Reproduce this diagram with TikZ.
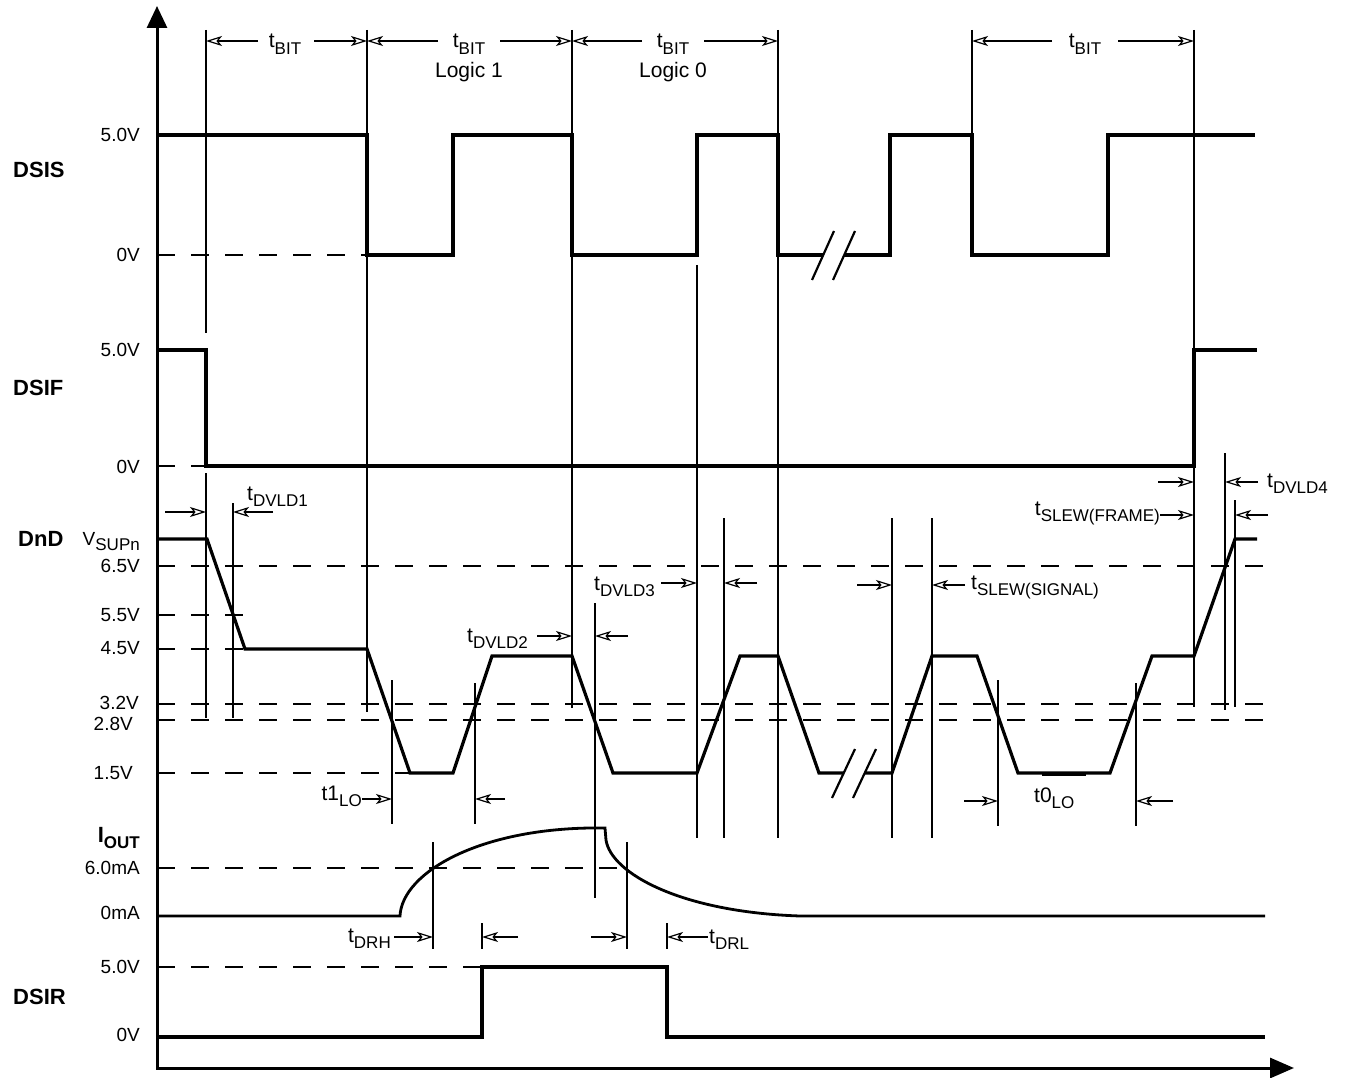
\documentclass[tikz,border=0pt]{standalone}
\usepackage{fontspec}
\setmainfont{Liberation Sans}
\usetikzlibrary{arrows.meta}
\newcommand\ssub[1]{\raisebox{-0.3em}{\fontsize{17}{17}\selectfont #1}}
\begin{document}
\begin{tikzpicture}[x=1pt,y=-1pt,
  sig/.style={line width=3.2pt, line join=miter},
  thinline/.style={line width=1.8pt},
  dsh/.style={line width=1.8pt, dash pattern=on 18pt off 16pt},
  dim/.style={line width=1.8pt, -{Stealth[open,length=16pt,width=10pt,inset=4pt,line width=1.2pt]}},
  lab/.style={font=\fontsize{19}{22}\selectfont, inner sep=0pt},
  tlab/.style={font=\fontsize{21}{24}\selectfont, inner sep=0pt},
  blab/.style={font=\fontsize{22}{24}\selectfont\bfseries, inner sep=0pt},
]
\fill[white] (0,0) rectangle (1350,1078);
\useasboundingbox (0,0) rectangle (1350,1078);

% axes
\draw[line width=3pt, {Triangle[length=22pt,width=20pt]}-{Triangle[length=24pt,width=20pt]}]
  (157,6) -- (157,1068) -- (1294,1068);

% ---------- DSIS ----------
\draw[dsh] (157,255) -- (367,255);
\draw[sig] (157,135) -- (367,135) -- (367,255) -- (453,255) -- (453,135) -- (572,135) -- (572,255)
  -- (697,255) -- (697,135) -- (778,135) -- (778,255) -- (823,255);
\draw[sig] (844,255) -- (890,255) -- (890,135) -- (972,135) -- (972,255) -- (1108,255) -- (1108,135) -- (1255,135);
\draw[line width=2.2pt] (812,280) -- (834,231);
\draw[line width=2.2pt] (833,280) -- (855,231);

% ---------- DSIF ----------
\draw[dsh] (157,466) -- (206,466);
\draw[sig] (157,350) -- (206,350) -- (206,466) -- (1194,466) -- (1194,350) -- (1257,350);

% ---------- DnD ----------
\draw[dsh] (157,566) -- (1265,566);
\draw[dsh] (157,615) -- (245,615);
\draw[dsh] (157,649) -- (245,649);
\draw[dsh] (157,704) -- (1265,704);
\draw[dsh] (157,720) -- (1265,720);
\draw[dsh] (157,773) -- (410,773);
\draw[sig] (157,539) -- (207,539) -- (245,649) -- (367,649) -- (410,773) -- (453,773) -- (492,656)
  -- (572,656) -- (613,773) -- (697,773) -- (740,656) -- (778,656) -- (819,773) -- (844,773);
\draw[sig] (865,773) -- (892,773) -- (932,656) -- (977,656) -- (1018,773) -- (1110,773) -- (1152,656)
  -- (1194,656) -- (1235,539) -- (1257,539);
\draw[line width=3pt] (1042,774) -- (1086,774);
\draw[line width=2.2pt] (832,798) -- (855,749);
\draw[line width=2.2pt] (853,798) -- (876,749);

% ---------- IOUT ----------
\draw[dsh] (157,868) -- (627,868);
\draw[sig, line width=2.8pt] (157,916) -- (400,916) .. controls (402,872) and (482,826) .. (605,828)
  -- (606,840) .. controls (611,873) and (680,912) .. (800,916) -- (1265,916);

% ---------- DSIR ----------
\draw[dsh] (157,967) -- (482,967);
\draw[sig] (157,1037) -- (482,1037) -- (482,967) -- (667,967) -- (667,1037) -- (1265,1037);

% ---------- thin markers ----------
\draw[thinline] (206,30) -- (206,333);
\draw[thinline] (206,473) -- (206,718);
\draw[thinline] (233,503) -- (233,718);
\draw[thinline] (367,30) -- (367,712);
\draw[thinline] (572,30) -- (572,708);
\draw[thinline] (778,30) -- (778,838);
\draw[thinline] (972,30) -- (972,135);
\draw[thinline] (1194,30) -- (1194,707);
\draw[thinline] (697,265) -- (697,838);
\draw[thinline] (724,518) -- (724,838);
\draw[thinline] (892,518) -- (892,838);
\draw[thinline] (932,518) -- (932,838);
\draw[thinline] (392,680) -- (392,824);
\draw[thinline] (475,683) -- (475,824);
\draw[thinline] (595,603) -- (595,898);
\draw[thinline] (998,680) -- (998,826);
\draw[thinline] (1136,683) -- (1136,826);
\draw[thinline] (1225,453) -- (1225,710);
\draw[thinline] (1235,500) -- (1235,707);
\draw[thinline] (433,842) -- (433,949);
\draw[thinline] (482,923) -- (482,949);
\draw[thinline] (627,842) -- (627,949);
\draw[thinline] (667,923) -- (667,949);

% ---------- dimension arrows ----------
\draw[dim] (258,41) -- (206,41);  \draw[dim] (314,41) -- (367,41);
\draw[dim] (438,41) -- (367,41);  \draw[dim] (500,41) -- (572,41);
\draw[dim] (642,41) -- (572,41);  \draw[dim] (704,41) -- (778,41);
\draw[dim] (1052,41) -- (972,41); \draw[dim] (1118,41) -- (1194,41);

\draw[dim] (165,512) -- (206,512);  \draw[dim] (273,512) -- (233,512);
\draw[dim] (362,799) -- (392,799);  \draw[dim] (505,799) -- (475,799);
\draw[dim] (537,636) -- (572,636);  \draw[dim] (628,636) -- (595,636);
\draw[dim] (661,583) -- (697,583);  \draw[dim] (757,583) -- (724,583);
\draw[dim] (857,585) -- (892,585);  \draw[dim] (965,585) -- (932,585);
\draw[dim] (964,801) -- (998,801);  \draw[dim] (1173,801) -- (1136,801);
\draw[dim] (1158,482) -- (1194,482); \draw[dim] (1258,482) -- (1225,482);
\draw[dim] (1160,515) -- (1194,515); \draw[dim] (1268,515) -- (1235,515);
\draw[dim] (394,937) -- (433,937);  \draw[dim] (518,937) -- (482,937);
\draw[dim] (591,937) -- (627,937);  \draw[dim] (708,937) -- (667,937);

% ---------- labels ----------
\node[lab, anchor=east] (v50s) at (140,135) {5.0V};
\node[lab, anchor=east] (v0s) at (140,255) {0V};
\node[blab, anchor=west] (dsis) at (13,170) {DSIS};
\node[lab, anchor=east] (v50f) at (140,350) {5.0V};
\node[lab, anchor=east] (v0f) at (140,467) {0V};
\node[blab, anchor=west] (dsif) at (13,388) {DSIF};
\node[blab, anchor=west] (dnd) at (18,539) {DnD};
\node[lab, anchor=base east] (vsup) at (140,545) {V\ssub{SUPn}};
\node[lab, anchor=east] (v65) at (140,566) {6.5V};
\node[lab, anchor=east] (v55) at (140,615) {5.5V};
\node[lab, anchor=east] (v45) at (140,648) {4.5V};
\node[lab, anchor=east] (v32) at (139,703) {3.2V};
\node[lab, anchor=east] (v28) at (133,724) {2.8V};
\node[lab, anchor=east] (v15) at (133,773) {1.5V};
\node[blab, anchor=base east] (iout) at (140,842) {I\ssub{\bfseries OUT}};
\node[lab, anchor=east] (v60) at (140,868) {6.0mA};
\node[lab, anchor=east] (v0ma) at (140,913) {0mA};
\node[lab, anchor=east] (v50r) at (140,967) {5.0V};
\node[blab, anchor=west] (dsir) at (13,997) {DSIR};
\node[lab, anchor=east] (v0r) at (140,1035) {0V};

\node[tlab, anchor=base] (tb1) at (285,48) {t\ssub{BIT}};
\node[tlab, anchor=base] (tb2) at (469,48) {t\ssub{BIT}};
\node[tlab, anchor=base] (lg1) at (469,78) {Logic 1};
\node[tlab, anchor=base] (tb3) at (673,48) {t\ssub{BIT}};
\node[tlab, anchor=base] (lg0) at (673,78) {Logic 0};
\node[tlab, anchor=base] (tb4) at (1085,48) {t\ssub{BIT}};

\node[tlab, anchor=base west] (dv1) at (247,500) {t\ssub{DVLD1}};
\node[tlab, anchor=base east] (t1lo) at (362,800) {t1\ssub{LO}};
\node[tlab, anchor=base west] (dv2) at (467,642) {t\ssub{DVLD2}};
\node[tlab, anchor=base west] (dv3) at (594,590) {t\ssub{DVLD3}};
\node[tlab, anchor=base west] (sls) at (971,589) {t\ssub{SLEW(SIGNAL)}};
\node[tlab, anchor=base west] (t0lo) at (1034,802) {t0\ssub{LO}};
\node[tlab, anchor=base east] (slf) at (1160,515) {t\ssub{SLEW(FRAME)}};
\node[tlab, anchor=base west] (dv4) at (1267,487) {t\ssub{DVLD4}};
\node[tlab, anchor=base east] (drh) at (391,942) {t\ssub{DRH}};
\node[tlab, anchor=base west] (drl) at (709,943) {t\ssub{DRL}};
\end{tikzpicture}
\end{document}
